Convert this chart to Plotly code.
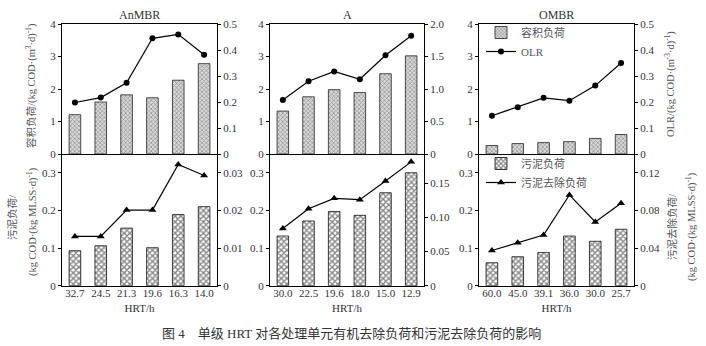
import plotly.graph_objects as go

# HRT settings (h) for each treatment unit
units = ["AnMBR", "A", "OMBR"]
hrt_labels = [
    ["32.7", "24.5", "21.3", "19.6", "16.3", "14.0"],
    ["30.0", "22.5", "19.6", "18.0", "15.0", "12.9"],
    ["60.0", "45.0", "39.1", "36.0", "30.0", "25.7"],
]

# 容积负荷, kg COD/(m3·d)
vol_load_anmbr = [1.21, 1.60, 1.82, 1.73, 2.27, 2.78]
vol_load_a = [1.32, 1.76, 1.98, 1.89, 2.47, 3.02]
vol_load_ombr = [0.26, 0.32, 0.35, 0.38, 0.48, 0.60]

# OLR, kg COD/(m3·d)
olr_anmbr = [0.198, 0.217, 0.274, 0.445, 0.460, 0.382]
olr_a = [0.83, 1.12, 1.27, 1.15, 1.52, 1.82]
olr_ombr = [0.147, 0.180, 0.216, 0.205, 0.263, 0.350]

# 污泥负荷, kg COD/(kg MLSS·d)
sludge_load_anmbr = [0.093, 0.106, 0.153, 0.101, 0.189, 0.210]
sludge_load_a = [0.132, 0.172, 0.197, 0.187, 0.247, 0.300]
sludge_load_ombr = [0.061, 0.077, 0.088, 0.132, 0.118, 0.150]

# 污泥去除负荷, kg COD/(kg MLSS·d)
sludge_rm_anmbr = [0.0131, 0.0131, 0.0201, 0.0201, 0.0322, 0.0293]
sludge_rm_a = [0.0835, 0.1126, 0.1277, 0.1257, 0.1530, 0.1810]
sludge_rm_ombr = [0.0374, 0.0456, 0.0538, 0.0965, 0.0677, 0.0876]

vol_load = [vol_load_anmbr, vol_load_a, vol_load_ombr]
olr = [olr_anmbr, olr_a, olr_ombr]
sludge_load = [sludge_load_anmbr, sludge_load_a, sludge_load_ombr]
sludge_rm = [sludge_rm_anmbr, sludge_rm_a, sludge_rm_ombr]

# right-axis scales
olr_range = [[0, 0.5], [0, 2.0], [0, 0.5]]
olr_ticks = [[0, 0.1, 0.2, 0.3, 0.4, 0.5], [0, 0.5, 1.0, 1.5, 2.0], [0, 0.1, 0.2, 0.3, 0.4, 0.5]]
olr_text = [["0", "0.1", "0.2", "0.3", "0.4", "0.5"], ["0", "0.5", "1.0", "1.5", "2.0"],
            ["0", "0.1", "0.2", "0.3", "0.4", "0.5"]]
rm_range = [[0, 0.035], [0, 0.1925], [0, 0.14]]
rm_ticks = [[0, 0.01, 0.02, 0.03], [0, 0.05, 0.10, 0.15], [0, 0.04, 0.08, 0.12]]
rm_text = [["0", "0.01", "0.02", "0.03"], ["0", "0.05", "0.10", "0.15"], ["0", "0.04", "0.08", "0.12"]]

W, H = 706, 346


def px(x):
    return x / W


def py(y):
    return 1 - y / H


panel_x = [(62, 217), (270, 424), (479, 634)]
top_y = (24, 154)
bot_y = (154, 285.7)

SERIF = "Liberation Serif, Times New Roman, serif"
MIXED = "Liberation Serif, Noto Sans CJK SC, serif"
TICKFONT = dict(family=SERIF, size=11, color="#333")

fig = go.Figure()
layout = {}

for i in range(3):
    cats = hrt_labels[i]
    xt, xb = f"x{2*i+1}", f"x{2*i+2}"
    yt, yt2, yb, yb2 = f"y{4*i+1}", f"y{4*i+2}", f"y{4*i+3}", f"y{4*i+4}"
    dom = [px(panel_x[i][0]), px(panel_x[i][1])]
    show_leg = i == 2

    fig.add_trace(go.Bar(
        x=cats, y=vol_load[i], xaxis=xt, yaxis=yt, name="容积负荷",
        width=0.45, showlegend=show_leg, legend="legend",
        marker=dict(color="white", line=dict(color="#222", width=0.8),
                    pattern=dict(shape="x", size=3, solidity=0.4, fgcolor="#444", bgcolor="#d8d8d8")),
    ))
    fig.add_trace(go.Scatter(
        x=cats, y=olr[i], xaxis=xt, yaxis=yt2, name="OLR", mode="lines+markers",
        showlegend=show_leg, legend="legend",
        line=dict(color="black", width=1.2), marker=dict(symbol="circle", size=6, color="black"),
    ))
    fig.add_trace(go.Bar(
        x=cats, y=sludge_load[i], xaxis=xb, yaxis=yb, name="污泥负荷",
        width=0.45, showlegend=show_leg, legend="legend2",
        marker=dict(color="white", line=dict(color="#111", width=0.8),
                    pattern=dict(shape="x", size=4, solidity=0.6, fgcolor="#111", bgcolor="white")),
    ))
    fig.add_trace(go.Scatter(
        x=cats, y=sludge_rm[i], xaxis=xb, yaxis=yb2, name="污泥去除负荷", mode="lines+markers",
        showlegend=show_leg, legend="legend2",
        line=dict(color="black", width=1.2), marker=dict(symbol="triangle-up", size=7, color="black"),
    ))

    common_x = dict(domain=dom, type="category", range=[-0.5, 5.5], showgrid=False,
                    showline=True, linecolor="black", linewidth=1, zeroline=False)
    layout["xaxis" if i == 0 else f"xaxis{2*i+1}"] = dict(
        common_x, anchor=yt, mirror=True, showticklabels=False, ticks="")
    layout[f"xaxis{2*i+2}"] = dict(
        common_x, anchor=yb, showticklabels=True, ticks="", tickfont=TICKFONT,
        ticklabelstandoff=-3,
        title=dict(text="HRT/h", font=dict(family=SERIF, size=11, color="#333"), standoff=6))

    common_y = dict(showgrid=False, zeroline=False, showline=True, linecolor="black",
                    linewidth=1, ticks="outside", ticklen=3, tickcolor="black", tickfont=TICKFONT)
    layout["yaxis" if i == 0 else f"yaxis{4*i+1}"] = dict(
        common_y, domain=[py(top_y[1]), py(top_y[0])], anchor=xt, range=[0, 4],
        tickvals=[0, 1, 2, 3, 4])
    layout[f"yaxis{4*i+2}"] = dict(
        common_y, domain=[py(top_y[1]), py(top_y[0])], anchor=xt, overlaying=yt, side="right",
        range=olr_range[i], tickvals=olr_ticks[i], ticktext=olr_text[i])
    layout[f"yaxis{4*i+3}"] = dict(
        common_y, domain=[py(bot_y[1]), py(bot_y[0])], anchor=xb, range=[0, 0.35],
        tickvals=[0, 0.1, 0.2, 0.3], ticktext=["0", "0.1", "0.2", "0.3"])
    layout[f"yaxis{4*i+4}"] = dict(
        common_y, domain=[py(bot_y[1]), py(bot_y[0])], anchor=xb, overlaying=yb, side="right",
        range=rm_range[i], tickvals=rm_ticks[i], ticktext=rm_text[i])


def note(text, x, y, font, angle=0):
    return dict(text=text, x=px(x), y=py(y), xref="paper", yref="paper", showarrow=False,
                xanchor="center", yanchor="middle", textangle=angle, font=font)


annotations = []
for i, name in enumerate(units):
    annotations.append(note(name, (panel_x[i][0] + panel_x[i][1]) / 2, 15,
                            dict(family=SERIF, size=12, color="#333")))

GRAY = "#555"
title_font = dict(family=MIXED, size=10.5, color=GRAY)
annotations += [
    note("容积负荷/(kg COD·(m<sup>3</sup>·d)<sup>-1</sup>)", 31, 86, title_font, -90),
    note("污泥负荷/", 12, 218, title_font, -90),
    note("(kg COD·(kg MLSS·d)<sup>-1</sup>)", 32, 222, title_font, -90),
    note("OLR/(kg COD·(m<sup>-3</sup>·d)<sup>-1</sup>)", 670, 84, title_font, -90),
    note("污泥去除负荷/", 672, 227, title_font, -90),
    note("(kg COD·(kg MLSS·d)<sup>-1</sup>)", 691, 227, title_font, -90),
    note("图 4    单级 HRT 对各处理单元有机去除负荷和污泥去除负荷的影响", 351, 333,
         dict(family=MIXED, size=13, color="#333")),
]

legend_font = dict(family=MIXED, size=11, color=GRAY)
fig.update_layout(
    width=W, height=H, margin=dict(l=0, r=0, t=0, b=0, autoexpand=False),
    paper_bgcolor="white", plot_bgcolor="white", bargap=0.5,
    annotations=annotations,
    legend=dict(x=px(481), y=py(18), xanchor="left", yanchor="top", font=legend_font,
                bgcolor="rgba(0,0,0,0)", itemwidth=30, tracegroupgap=0),
    legend2=dict(x=px(481), y=py(149), xanchor="left", yanchor="top", font=legend_font,
                 bgcolor="rgba(0,0,0,0)", itemwidth=30, tracegroupgap=0),
    **layout,
)

fig.write_html("out.html")
